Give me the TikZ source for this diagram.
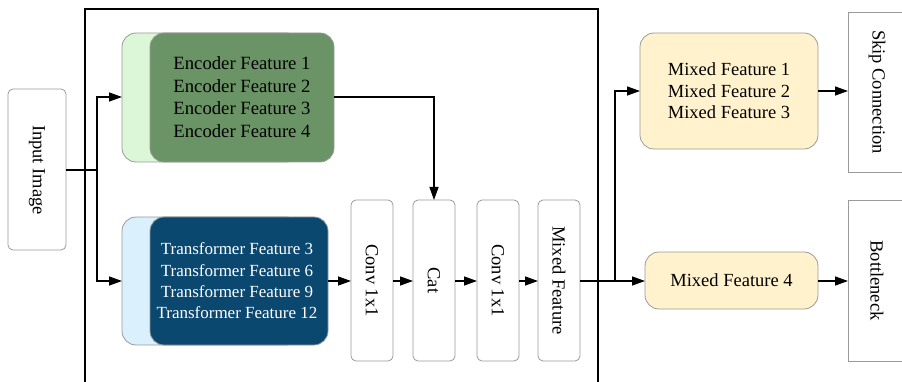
\documentclass[tikz,border=0pt]{standalone}
\usepackage{fontspec}
\setmainfont{Liberation Serif}
\usetikzlibrary{arrows.meta}
\definecolor{edgegray}{HTML}{9A9A9A}
\definecolor{encdark}{HTML}{6A9465}
\definecolor{enclight}{HTML}{DBF7D8}
\definecolor{tfdark}{HTML}{0B4870}
\definecolor{tflight}{HTML}{DAF0FD}
\definecolor{mixfill}{HTML}{FFF2CC}
\tikzset{
  px/.style={x=1pt,y=-1pt},
  conn/.style={line width=1.3pt,-{Triangle[length=13pt,width=9pt]}},
  wire/.style={line width=1.3pt},
  slab/.style={draw=edgegray,line width=0.8pt,rounded corners=5pt,fill=white},
  blk/.style={draw=edgegray,line width=0.8pt,rounded corners=14pt},
  plainbox/.style={draw=edgegray,line width=0.8pt,fill=white},
  vtext/.style={rotate=-90,font=\fontsize{18.5pt}{22pt}\selectfont},
  mtext/.style={align=center,font=\fontsize{18.5pt}{21.6pt}\selectfont}
}
\begin{document}
\begin{tikzpicture}[px]
\useasboundingbox (0,0) rectangle (902,382);
\begin{scope}
\clip (0,0) rectangle (902,382);
% module frame
\draw[line width=2pt] (85,400) -- (85,9) -- (598,9) -- (598,400);

% input
\draw[slab] (8,89) rectangle (66,250);
\node[vtext] (input) at (37,170) {Input Image};
\coordinate (inE) at (66,170);

% encoder branch (stacked cards)
\draw[blk,fill=enclight] (122,33) rectangle (300,162);
\draw[blk,fill=encdark] (150,33) rectangle (334,162);
\node[mtext,font=\fontsize{18.7pt}{22.7pt}\selectfont] (enc) at (242,97)
  {Encoder Feature 1\\Encoder Feature 2\\Encoder Feature 3\\Encoder Feature 4};
\coordinate (encW) at (122,97);
\coordinate (encE) at (334,97);

% transformer branch (stacked cards)
\draw[blk,fill=tflight] (122,217) rectangle (300,345);
\draw[blk,fill=tfdark] (150,217) rectangle (328,345);
\node[mtext,text=white,font=\fontsize{17pt}{21.3pt}\selectfont] (tf) at (237,281)
  {Transformer Feature 3\\Transformer Feature 6\\Transformer Feature 9\\Transformer Feature 12};
\coordinate (tfW) at (122,281);
\coordinate (tfE) at (328,281);

% fusion column
\draw[slab] (351,200) rectangle (393,361);
\node[vtext] (conva) at (372,280.5) {Conv 1x1};
\draw[slab] (413,200) rectangle (455,361);
\node[vtext] (cat) at (434,280.5) {Cat};
\draw[slab] (477,200) rectangle (519,361);
\node[vtext] (convb) at (498,280.5) {Conv 1x1};
\draw[slab] (538,200) rectangle (580,361);
\node[vtext] (mixf) at (559,280.5) {Mixed Feature};

% outputs
\draw[blk,fill=mixfill] (640,33) rectangle (818,149);
\node[mtext] (mixa) at (729,91) {Mixed Feature 1\\Mixed Feature 2\\Mixed Feature 3};
\draw[blk,fill=mixfill] (645,252) rectangle (818,309);
\node[mtext] (mixb) at (731.5,280.5) {Mixed Feature 4};

\draw[plainbox] (848,12) rectangle (908,172);
\node[vtext] (skip) at (877,92) {Skip Connection};
\draw[plainbox] (848,200) rectangle (908,361);
\node[vtext] (bott) at (877,280.5) {Bottleneck};

% connectors
\coordinate (split) at (97,170);
\draw[wire] (inE) -- (split);
\draw[conn] (split) |- (encW);
\draw[conn] (split) |- (tfW);
\draw[conn] (encE) -| (434,200);
\draw[conn] (tfE) -- (351,281);
\draw[conn] (393,281) -- (413,281);
\draw[conn] (455,281) -- (477,281);
\draw[conn] (519,281) -- (538,281);
\coordinate (fork) at (615,281);
\draw[conn] (580,281) -- (645,281);
\draw[conn] (fork) |- (640,91);
\draw[conn] (818,91) -- (848,91);
\draw[conn] (818,281) -- (848,281);
\end{scope}
\end{tikzpicture}
\end{document}
